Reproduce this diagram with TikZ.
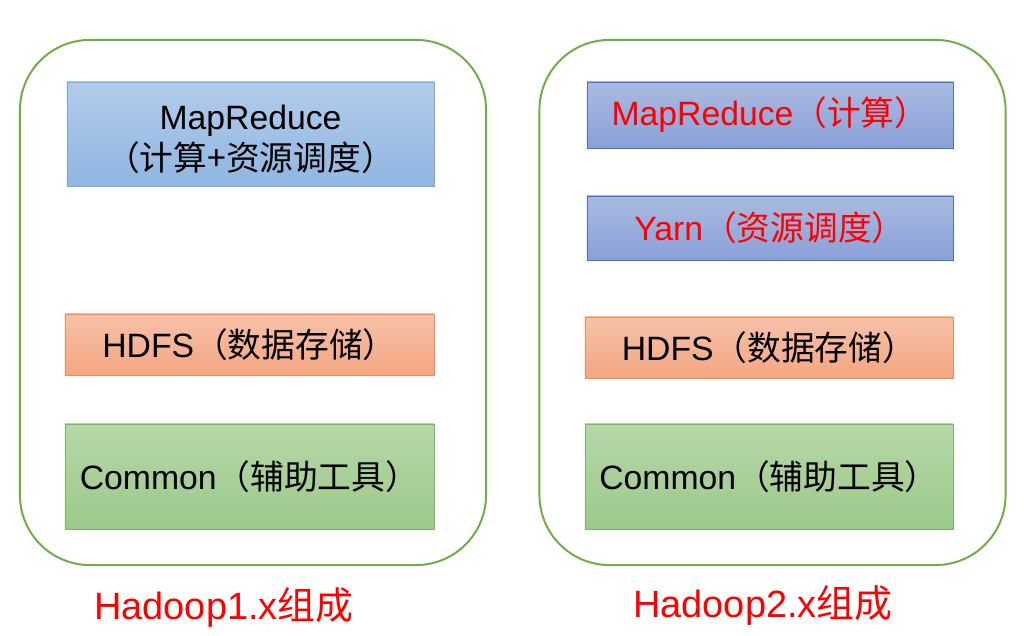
\documentclass[tikz,border=0pt]{standalone}
\usepackage{fontspec}
\setmainfont{Liberation Sans}
\newfontfamily\cjk{Noto Sans CJK SC}
\newcommand{\zh}[1]{{\cjk #1}}
\definecolor{framegreen}{HTML}{70AD47}
\definecolor{mrblue}{HTML}{7DA7D9}
\definecolor{yarnblue}{HTML}{4472C4}
\definecolor{hdfsline}{HTML}{F08C5A}
\definecolor{commonline}{HTML}{7FB36A}

\begin{document}
\begin{tikzpicture}[
		x=0.025cm, y=-0.025cm,
		frame/.style={draw=framegreen, line width=1.4pt, rounded corners=1.75cm, minimum width=11.65cm, minimum height=13.125cm},
		part/.style={draw, line width=0.6pt, inner sep=0pt, align=center, font=\fontsize{24}{29}\selectfont},
		mr1/.style={part, draw=mrblue, top color={rgb,255:red,178;green,204;blue,234}, bottom color={rgb,255:red,144;green,182;blue,226}},
		mr2/.style={part, draw=yarnblue, text=red, top color={rgb,255:red,170;green,186;blue,225}, bottom color={rgb,255:red,138;green,160;blue,215}},
		hdfs/.style={part, draw=hdfsline, top color={rgb,255:red,247;green,193;blue,168}, bottom color={rgb,255:red,244;green,166;blue,130}},
		common/.style={part, draw=commonline, top color={rgb,255:red,183;green,215;blue,168}, bottom color={rgb,255:red,156;green,201;blue,138}},
		title/.style={text=red, font=\fontsize{27}{32}\selectfont}
	]
		\useasboundingbox (0,0) rectangle (1024,636);

		% Hadoop 1.x
		\node[frame] (frame1) at (253, 302.5) {};
		\node[mr1, minimum width=9.175cm, minimum height=2.6cm] (mr1) at (250.5, 134) {\rule{0pt}{25pt}MapReduce\\\zh{（计算+资源调度）}};
		\node[hdfs, minimum width=9.225cm, minimum height=1.525cm] (hdfs1) at (249.5, 344.5) {HDFS\zh{（数据存储）}};
		\node[common, minimum width=9.225cm, minimum height=2.625cm] (common1) at (249.5, 476.5) {Common\zh{（辅助工具）}};
		\node[title] (title1) at (224, 607) {Hadoop1.x\zh{组成}};

		% Hadoop 2.x
		\node[frame] (frame2) at (772.5, 302.5) {};
		\node[mr2, minimum width=9.15cm, minimum height=1.65cm] (mr2) at (770, 115) {MapReduce\zh{（计算）}};
		\node[mr2, minimum width=9.15cm, minimum height=1.6cm] (yarn) at (770, 228) {Yarn\zh{（资源调度）}};
		\node[hdfs, minimum width=9.2cm, minimum height=1.525cm] (hdfs2) at (769, 347.5) {HDFS\zh{（数据存储）}};
		\node[common, minimum width=9.2cm, minimum height=2.625cm] (common2) at (769, 476.5) {Common\zh{（辅助工具）}};
		\node[title] (title2) at (763, 605) {Hadoop2.x\zh{组成}};
	\end{tikzpicture}
\end{document}
